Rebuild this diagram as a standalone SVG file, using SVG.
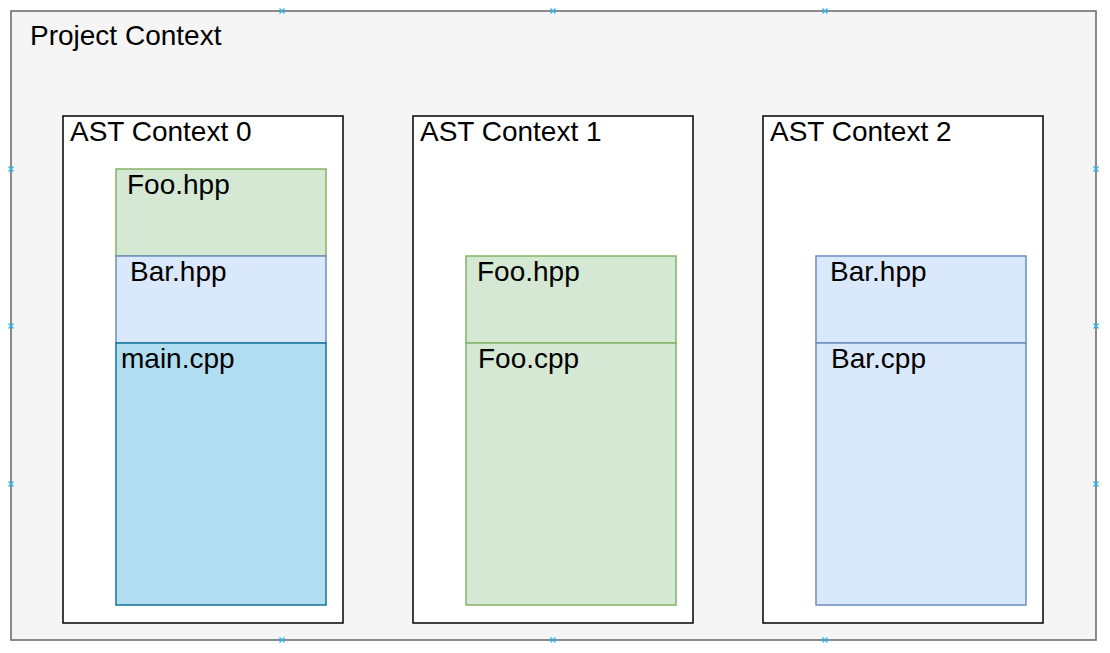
<svg xmlns="http://www.w3.org/2000/svg" width="1110" height="653" viewBox="0 0 1110 653">
<style>
text{font-family:"Liberation Sans",Arial,sans-serif;font-size:28px;fill:#000}
.ctx{fill:#fff;stroke:#000;stroke-width:1.5}
.green{fill:#d5e8d4;stroke:#82b366;stroke-width:1.5}
.blue{fill:#dae8fc;stroke:#6c8ebf;stroke-width:1.5}
.main{fill:#b1ddf0;stroke:#10739e;stroke-width:1.5}
.mk{stroke:#29b6f2;stroke-width:1.3;fill:none}
</style>
<defs>
<path id="x" class="mk" d="M-2.5,-2.5L2.5,2.5M-2.5,2.5L2.5,-2.5"/>
</defs>
<g id="project">
<rect x="11" y="11" width="1085" height="629" fill="#f5f5f5" stroke="#666" stroke-width="1.5"/>
<text x="30" y="45">Project Context</text>
</g>
<g id="ast0">
<rect class="ctx" x="63" y="116" width="280" height="507"/>
<text x="70" y="141">AST Context 0</text>
</g>
<g id="ast0-foo-hpp"><rect class="green" x="116" y="169" width="210" height="87"/><text x="127" y="194">Foo.hpp</text></g>
<g id="ast0-bar-hpp"><rect class="blue" x="116" y="256" width="210" height="87"/><text x="130" y="281">Bar.hpp</text></g>
<g id="ast0-main-cpp"><rect class="main" x="116" y="343" width="210" height="262"/><text x="121" y="368">main.cpp</text></g>
<g id="ast1">
<rect class="ctx" x="413" y="116" width="280" height="507"/>
<text x="420" y="141">AST Context 1</text>
</g>
<g id="ast1-foo-hpp"><rect class="green" x="466" y="256" width="210" height="87"/><text x="477" y="281">Foo.hpp</text></g>
<g id="ast1-foo-cpp"><rect class="green" x="466" y="343" width="210" height="262"/><text x="478" y="368">Foo.cpp</text></g>
<g id="ast2">
<rect class="ctx" x="763" y="116" width="280" height="507"/>
<text x="770" y="141">AST Context 2</text>
</g>
<g id="ast2-bar-hpp"><rect class="blue" x="816" y="256" width="210" height="87"/><text x="830" y="281">Bar.hpp</text></g>
<g id="ast2-bar-cpp"><rect class="blue" x="816" y="343" width="210" height="262"/><text x="831" y="368">Bar.cpp</text></g>
<g id="connectors"></g>
<g id="markers">
<use href="#x" x="282" y="11"/><use href="#x" x="553" y="11"/><use href="#x" x="825" y="11"/>
<use href="#x" x="282" y="640"/><use href="#x" x="553" y="640"/><use href="#x" x="825" y="640"/>
<use href="#x" x="11" y="169"/><use href="#x" x="11" y="326"/><use href="#x" x="11" y="484"/>
<use href="#x" x="1096" y="169"/><use href="#x" x="1096" y="326"/><use href="#x" x="1096" y="484"/>
</g>
</svg>
